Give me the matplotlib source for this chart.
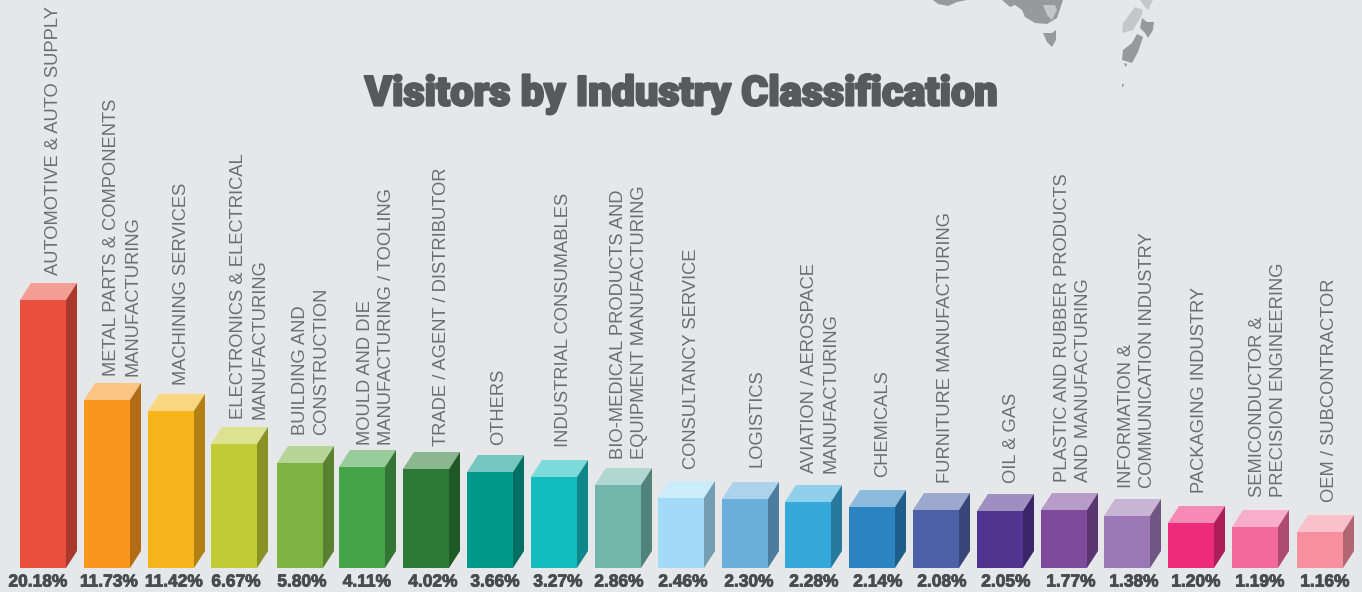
import matplotlib
matplotlib.use('Agg')
import matplotlib.pyplot as plt
import matplotlib.patheffects as pe
from matplotlib.colors import to_rgb
from matplotlib.patches import Polygon

# the percentages printed under the bars
percents = ['20.18%', '11.73%', '11.42%', '6.67%', '5.80%', '4.11%', '4.02%',
            '3.66%', '3.27%', '2.86%', '2.46%', '2.30%', '2.28%', '2.14%',
            '2.08%', '2.05%', '1.77%', '1.38%', '1.20%', '1.19%', '1.16%']
# the drawn bars are not to scale with the percentages, so heights are read off
heights = [268, 168, 157, 124, 105, 101, 99, 96, 91, 83, 70, 69, 66, 61,
           58, 57, 58, 52, 45, 41, 36]
names = ['AUTOMOTIVE & AUTO SUPPLY',
         'METAL PARTS & COMPONENTS\nMANUFACTURING',
         'MACHINING SERVICES',
         'ELECTRONICS & ELECTRICAL\nMANUFACTURING',
         'BUILDING AND\nCONSTRUCTION',
         'MOULD AND DIE\nMANUFACTURING / TOOLING',
         'TRADE / AGENT / DISTRIBUTOR',
         'OTHERS',
         'INDUSTRIAL CONSUMABLES',
         'BIO-MEDICAL PRODUCTS AND\nEQUIPMENT MANUFACTURING',
         'CONSULTANCY SERVICE',
         'LOGISTICS',
         'AVIATION / AEROSPACE\nMANUFACTURING',
         'CHEMICALS',
         'FURNITURE MANUFACTURING',
         'OIL & GAS',
         'PLASTIC AND RUBBER PRODUCTS\nAND MANUFACTURING',
         'INFORMATION &\nCOMMUNICATION INDUSTRY',
         'PACKAGING INDUSTRY',
         'SEMICONDUCTOR &\nPRECISION ENGINEERING',
         'OEM / SUBCONTRACTOR']
colors = ['#e94f3d', '#f9961e', '#f6b51a', '#c0cb35', '#7cb342', '#45a349',
          '#2c7a36', '#00998a', '#13bcbd', '#72b6ab', '#a2daf7', '#6aaedb',
          '#36a9db', '#2b83bf', '#4c60a8', '#50348f', '#7d4a9c', '#9b78b5',
          '#ee2a7b', '#f2699c', '#f68f9e']
lefts = [20, 84, 148, 211, 277, 339, 403, 467, 531, 595, 658, 722, 785, 849,
         913, 977, 1041, 1104, 1168, 1232, 1297]
label_x = [54, 122, 181, 249, 311, 376, 441, 499, 563, 629, 692, 757, 820,
           883, 945, 1011, 1073, 1137, 1199, 1268, 1329]
label_y = [293, 192, 183, 149, 133, 123, 122, 123, 121, 109, 99, 101, 95,
           91, 85, 85, 86, 80, 75, 71, 66]
pct_x = [38, 109, 174, 236, 302, 367, 433, 495, 558, 619, 683, 749, 814,
         878, 942, 1006, 1071, 1134, 1196, 1260, 1325]

# bits of a map that run off the top of the page, picture pixels from the top
map_dark = [[(1002, 0), (1010, 7), (1015, 5), (1022, 10), (1025, 17), (1035, 23),
             (1047, 24), (1057, 18), (1063, 0)],
            [(933, 0), (938, 4), (948, 6), (957, 2), (967, 0)],
            [(1043, 33), (1052, 33), (1056, 30), (1056, 40), (1052, 47), (1047, 42)],
            [(1142, 18), (1147, 22), (1154, 22), (1153, 30), (1148, 38), (1145, 33), (1140, 28)],
            [(1137, 34), (1143, 37), (1138, 52), (1132, 63), (1122, 60), (1123, 50), (1132, 43)],
            [(1124, 63), (1127, 64), (1126, 67), (1125, 66)],
            [(1122, 84), (1124, 84), (1123, 87), (1122, 87)]]
map_light = [[(1135, 7), (1143, 10), (1141, 17), (1133, 30), (1122, 33), (1123, 23)],
             [(1140, 0), (1153, 0), (1148, 10), (1145, 7)],
             [(1043, 5), (1055, 5), (1057, 10), (1052, 20), (1047, 15)]]

BG = '#e6e7e9'
WIDTH = 46
DX, DY = 11, 17


def shade(color, factor):
    r, g, b = to_rgb(color)
    if factor < 1:
        return (r * factor, g * factor, b * factor)
    # factor above 1 mixes towards white
    f = factor - 1
    return (r + (1 - r) * f, g + (1 - g) * f, b + (1 - b) * f)


fig = plt.figure(figsize=(13.62, 5.92), dpi=100, facecolor=BG)
ax = fig.add_axes([0, 0, 1, 1])
ax.set_xlim(0, 1362)
ax.set_ylim(-24, 568)
ax.axis('off')

for pts in map_dark:
    ax.add_patch(Polygon([(x, 568 - y) for x, y in pts], fc='#97999c', ec='none'))
for pts in map_light:
    ax.add_patch(Polygon([(x, 568 - y) for x, y in pts], fc='#c5c6c8', ec='none'))

ax.bar(lefts, heights, width=WIDTH, align='edge', color=colors, zorder=3)
for x, h, c in zip(lefts, heights, colors):
    top = [(x, h), (x + DX, h + DY), (x + WIDTH + DX, h + DY), (x + WIDTH, h)]
    side = [(x + WIDTH, 0), (x + WIDTH + DX, DY), (x + WIDTH + DX, h + DY), (x + WIDTH, h)]
    ax.add_patch(Polygon(top, fc=shade(c, 1.45), ec='none', zorder=2))
    ax.add_patch(Polygon(side, fc=shade(c, 0.72), ec='none', zorder=2))

for x, y, s in zip(label_x, label_y, names):
    ax.text(x, y, s, rotation=90, ha='center', va='bottom', ma='left', fontsize=13.2,
            color='#6d6e71', family='Liberation Sans', linespacing=1.37)

for x, s in zip(pct_x, percents):
    ax.text(x, -14, s, ha='center', va='center', fontsize=12.5, fontweight='bold',
            color='#4a4b4d', family='Liberation Sans',
            path_effects=[pe.withStroke(linewidth=0.6, foreground='#4a4b4d')])

ax.text(681, 474, 'Visitors by Industry Classification', ha='center', va='center',
        fontsize=29.8, fontweight='black', color='#58595b', family='Roboto',
        path_effects=[pe.withStroke(linewidth=1.6, foreground='#58595b')])

fig.savefig('out.png', dpi=100, facecolor=BG)
